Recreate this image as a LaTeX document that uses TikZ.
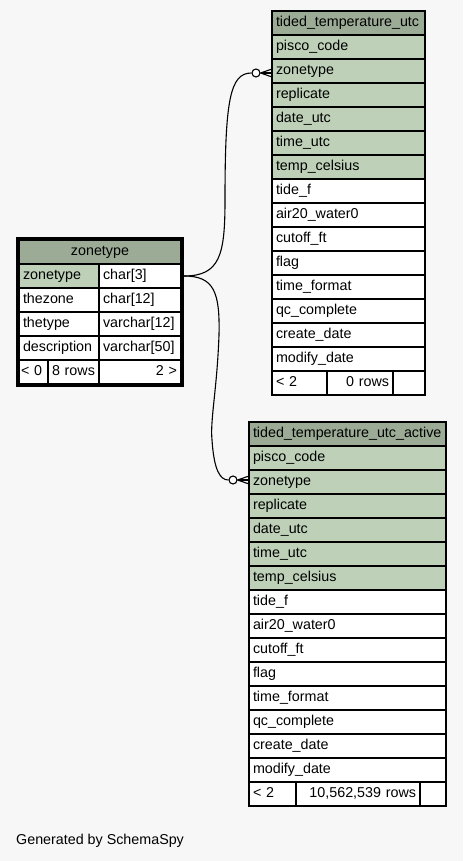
\documentclass[tikz,border=0pt]{standalone}
\usepackage{fontspec}
\setmainfont{Liberation Sans}
\usetikzlibrary{positioning}
\definecolor{SchemaBg}{HTML}{F7F7F7}
\definecolor{SchemaHead}{HTML}{9BAB96}
\definecolor{SchemaKey}{HTML}{BED1B8}

\begin{document}
\begin{tikzpicture}[x=1pt,y=-1pt,
  cell/.style={draw,line width=1.2pt,rectangle,anchor=north west,inner xsep=4pt,inner ysep=0pt,outer sep=0pt,
    minimum height=24pt,text height=10.5pt,text depth=3pt,align=left,text width=#1,fill=white,
    font=\fontsize{14.3}{17}\selectfont},
  head/.style={cell=#1,fill=SchemaHead},
  ring/.style={circle,draw,fill=white,line width=1.1pt,inner sep=0pt,minimum size=8pt},
  link/.style={line width=1.1pt}]
    \useasboundingbox[fill=SchemaBg] (0,0) rectangle (463,861);
    % tided_temperature_utc
    \node[head=145pt] (utc-0) at (272,11) {tided\_temperature\_utc};
    \foreach \field [count=\k] in %
    {pisco\_code,zonetype,replicate,date\_utc,time\_utc,temp\_celsius,tide\_f,air20\_water0,cutoff\_ft,flag,time\_format,qc\_complete,create\_date,modify\_date} {
       \ifnum\k<7 \def\rowfill{SchemaKey}\else\def\rowfill{white}\fi
       \node[cell=145pt,fill=\rowfill] (utc-\k) at (272,{11+24*\k}) {\field};
    }
    \node[cell=47pt] (utc-prev) at (272,371) {< 2};
    \node[cell=58pt,align=right] (utc-rows) at (327,371) {0 rows};
    \node[cell=24pt] (utc-next) at (393,371) {};
    % tided_temperature_utc_active
    \node[head=189pt] (act-0) at (249,422) {tided\_temperature\_utc\_active};
    \foreach \field [count=\k] in %
    {pisco\_code,zonetype,replicate,date\_utc,time\_utc,temp\_celsius,tide\_f,air20\_water0,cutoff\_ft,flag,time\_format,qc\_complete,create\_date,modify\_date} {
       \ifnum\k<7 \def\rowfill{SchemaKey}\else\def\rowfill{white}\fi
       \node[cell=189pt,fill=\rowfill] (act-\k) at (249,{422+24*\k}) {\field};
    }
    \node[cell=39pt] (act-prev) at (249,782) {< 2};
    \node[cell=116pt,align=right] (act-rows) at (296,782) {10,562,539 rows};
    \node[cell=18pt] (act-next) at (420,782) {};
    % zonetype
    \node[head=154pt,align=center] (zt-0) at (19,240) {zonetype};
    \foreach \col/\kind [count=\k] in %
    {zonetype/char[3],thezone/char[12],thetype/varchar[12],description/varchar[50]} {
       \ifnum\k=1 \def\rowfill{SchemaKey}\else\def\rowfill{white}\fi
       \node[cell=72pt,fill=\rowfill] (zt-\k) at (19,{240+24*\k}) {\col};
       \node[cell=74pt] (zt-\k-type) at (99,{240+24*\k}) {\kind};
    }
    \node[cell=25pt,inner xsep=2pt] (zt-prev) at (19,360) {\mbox{< 0}};
    \node[cell=43pt] (zt-rows) at (48,360) {8 rows};
    \node[cell=74pt,align=right] (zt-next) at (99,360) {2 >};
    \draw[line width=3pt] ([shift={(-1.5pt,1.5pt)}]zt-0.north west) rectangle ([shift={(1.5pt,-1.5pt)}]zt-next.south east);
    % relationships
    \coordinate (zt-out) at ([xshift=3pt]zt-1-type.east);
    \node[ring] (ring-utc) at (256,73) {};
    \node[ring] (ring-act) at (233,480) {};
    \draw[link] (zt-out) .. controls (220,276) and (225,255) .. (225,200)
       .. controls (225,100) and (230,73) .. (ring-utc.west);
    \draw[link] (zt-out) .. controls (214,276) and (220,292) .. (219,335)
       .. controls (217,390) and (210,420) .. (212,440)
       .. controls (214,470) and (220,480) .. (ring-act.west);
    \foreach \s in {-4,0,4} {
       \draw[link] (ring-utc.east) -- ([yshift=\s pt-2pt]utc-2.west);
       \draw[link] (ring-act.east) -- ([yshift=\s pt+2pt]act-2.west);
    }
    \node[anchor=west,inner sep=0pt,font=\fontsize{14.3}{17}\selectfont] (credit) at (16,841) {Generated by SchemaSpy};
\end{tikzpicture}
\end{document}
